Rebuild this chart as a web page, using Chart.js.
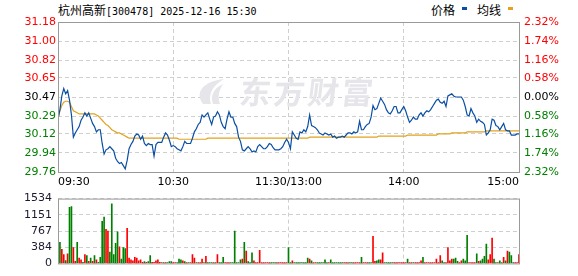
<!DOCTYPE html>
<html>
<head>
<meta charset="utf-8">
<script src="https://cdn.jsdelivr.net/npm/chart.js@4.4.1/dist/chart.umd.min.js"></script>
<style>
  body { margin: 0; background: #fff; width: 578px; height: 276px; overflow: hidden; position: relative; }
  #title { position: absolute; left: 58px; top: 2px; height: 16px; line-height: 16px; white-space: nowrap; color: #000; }
  .cjk { font-family: "Noto Sans CJK SC", sans-serif; font-size: 12px; }
  .mono { font-family: "DejaVu Sans Mono", monospace; font-size: 10px; }
  .lg { position: absolute; top: 2px; height: 16px; line-height: 16px; white-space: nowrap; font-family: "Noto Sans CJK SC", sans-serif; font-size: 12px; color: #000; }
  .key { position: absolute; top: 7px; width: 5px; height: 3px; }
  #priceChart { position: absolute; left: 0; top: 0; }
  #volChart { position: absolute; left: 0; top: 186px; }
</style>
</head>
<body>
<div id="title"><span class="cjk">杭州高新</span><span class="mono">[300478] 2025-12-16 15:30</span></div>
<div class="lg" style="left:431px">价格</div>
<div class="key" style="left:462px;background:#0a4fa3"></div>
<div class="lg" style="left:477px">均线</div>
<div class="key" style="left:508px;background:#e2a21c"></div>
<canvas id="priceChart" width="578" height="190"></canvas>
<canvas id="volChart" width="578" height="90"></canvas>
<script>
// minute-by-minute price, 09:30 .. 11:30 then 13:00 .. 15:00 (241 points)
const price = [
  30.26, 30.35, 30.48, 30.55, 30.50, 30.53, 30.44, 30.30, 30.09, 30.13,
  30.16, 30.19, 30.25, 30.28, 30.32, 30.29, 30.32, 30.27, 30.22, 30.19,
  30.14, 30.16, 30.16, 30.03, 29.93, 29.97, 29.98, 30.00, 29.98, 29.96,
  29.89, 29.86, 29.84, 29.85, 29.82, 29.79, 29.87, 29.98, 30.02, 30.05,
  30.10, 30.12, 30.11, 30.07, 30.10, 30.03, 30.01, 30.03, 30.02, 30.02,
  29.91, 30.02, 30.04, 30.04, 30.04, 30.09, 30.13, 30.11, 30.06, 30.00,
  30.01, 30.00, 29.98, 29.97, 29.96, 30.00, 30.05, 30.03, 30.03, 30.03,
  30.08, 30.14, 30.17, 30.21, 30.23, 30.30, 30.28, 30.30, 30.32, 30.26,
  30.21, 30.28, 30.29, 30.33, 30.30, 30.23, 30.19, 30.17, 30.26, 30.33,
  30.28, 30.28, 30.22, 30.19, 30.09, 30.05, 29.97, 29.96, 29.98, 30.00,
  29.98, 29.95, 29.96, 29.95, 30.00, 30.02, 30.00, 29.98, 29.98, 30.00,
  30.03, 30.02, 29.99, 29.97, 29.97, 29.97, 29.98, 30.00, 30.04, 30.07,
  30.04, 29.98, 30.14, 30.11, 30.08, 30.07, 30.14, 30.13, 30.16, 30.14,
  30.19, 30.30, 30.20, 30.19, 30.18, 30.16, 30.13, 30.12, 30.11, 30.13,
  30.12, 30.11, 30.12, 30.09, 30.10, 30.08, 30.09, 30.09, 30.10, 30.09,
  30.11, 30.13, 30.13, 30.12, 30.14, 30.13, 30.14, 30.24, 30.16, 30.16,
  30.19, 30.21, 30.22, 30.28, 30.39, 30.35, 30.36, 30.41, 30.46, 30.43,
  30.40, 30.35, 30.32, 30.31, 30.34, 30.38, 30.38, 30.32, 30.32, 30.35,
  30.38, 30.34, 30.28, 30.23, 30.25, 30.28, 30.26, 30.26, 30.30, 30.32,
  30.29, 30.32, 30.34, 30.33, 30.35, 30.38, 30.41, 30.44, 30.45, 30.42,
  30.41, 30.43, 30.38, 30.48, 30.49, 30.50, 30.48, 30.47, 30.47, 30.47,
  30.47, 30.44, 30.38, 30.30, 30.29, 30.36, 30.32, 30.29, 30.23, 30.26,
  30.24, 30.23, 30.21, 30.11, 30.13, 30.16, 30.26, 30.25, 30.20, 30.19,
  30.16, 30.19, 30.22, 30.16, 30.15, 30.15, 30.11, 30.11, 30.11, 30.12,
  30.12
];

// average price line
const avgPrice = [
  30.26, 30.34, 30.39, 30.42, 30.43, 30.43, 30.42, 30.38, 30.34, 30.33,
  30.32, 30.31, 30.31, 30.31, 30.31, 30.31, 30.31, 30.31, 30.31, 30.31,
  30.30, 30.29, 30.27, 30.25, 30.23, 30.21, 30.20, 30.18, 30.16, 30.15,
  30.14, 30.13, 30.13, 30.12, 30.11, 30.10, 30.09, 30.08, 30.08, 30.08,
  30.08, 30.08, 30.08, 30.08, 30.08, 30.08, 30.08, 30.08, 30.08, 30.08,
  30.08, 30.08, 30.08, 30.08, 30.08, 30.08, 30.08, 30.08, 30.08, 30.08,
  30.08, 30.08, 30.08, 30.07, 30.07, 30.07, 30.07, 30.07, 30.07, 30.07,
  30.07, 30.07, 30.07, 30.07, 30.07, 30.07, 30.07, 30.07, 30.08, 30.08,
  30.08, 30.08, 30.08, 30.08, 30.08, 30.08, 30.08, 30.08, 30.08, 30.08,
  30.08, 30.08, 30.08, 30.08, 30.08, 30.08, 30.08, 30.08, 30.08, 30.08,
  30.08, 30.08, 30.08, 30.08, 30.08, 30.08, 30.08, 30.08, 30.08, 30.08,
  30.08, 30.08, 30.08, 30.08, 30.08, 30.08, 30.08, 30.08, 30.08, 30.08,
  30.08, 30.08, 30.08, 30.08, 30.08, 30.08, 30.08, 30.08, 30.08, 30.08,
  30.08, 30.09, 30.09, 30.09, 30.09, 30.09, 30.09, 30.09, 30.09, 30.09,
  30.09, 30.09, 30.09, 30.09, 30.09, 30.09, 30.09, 30.09, 30.09, 30.09,
  30.09, 30.09, 30.09, 30.09, 30.09, 30.09, 30.09, 30.09, 30.09, 30.09,
  30.09, 30.09, 30.09, 30.09, 30.09, 30.09, 30.09, 30.10, 30.10, 30.10,
  30.10, 30.10, 30.10, 30.10, 30.10, 30.10, 30.10, 30.10, 30.10, 30.10,
  30.10, 30.10, 30.11, 30.11, 30.11, 30.11, 30.11, 30.11, 30.11, 30.11,
  30.11, 30.11, 30.11, 30.11, 30.11, 30.11, 30.11, 30.11, 30.12, 30.12,
  30.12, 30.12, 30.12, 30.12, 30.12, 30.13, 30.13, 30.13, 30.13, 30.13,
  30.13, 30.13, 30.13, 30.14, 30.14, 30.14, 30.14, 30.14, 30.14, 30.14,
  30.14, 30.14, 30.14, 30.15, 30.15, 30.15, 30.15, 30.15, 30.15, 30.15,
  30.15, 30.15, 30.15, 30.15, 30.15, 30.15, 30.15, 30.15, 30.15, 30.15,
  30.15
];

// volume per minute (lots)
const volume = [
     0,  497,  331,  207,   69,  228, 1325, 1345,  373,   48,
   497,  124,   83,   28,  207,  186,   48,  124,   48,  186,
    83,   28,  145,  994, 1097,  807,  766,  269, 1408,  207,
   476,  745,  393,  104,  373,  352,  828,  124,   83,   62,
   145,  124,   62,   83,   28,   41,   28,   41,  186,   28,
    28,   62,   83,   28,   20,   20,   20,   20,   41,   41,
    20,   20,   20,  104,   83,   62,   41,   20,   20,   20,
   207,  124,   20,   20,   20,  104,   20,  166,   20,   20,
    20,   20,   20,  207,   20,   20,  145,   20,   20,   20,
    20,   20,  766,   20,   20,   83,  104,  497,  290,   41,
    20,  248,   62,   20,   20,  310,   20,   20,   20,   20,
    20,   20,   20,   20,   20,   20,   20,   20,   20,   20,
   373,   20,   62,   20,   20,   20,   20,   20,   20,   20,
   124,  104,   62,   20,   20,   20,   20,   20,   20,   83,
    20,   20,   83,   20,   20,   20,   20,   20,   20,   20,
    20,   20,   20,   20,   20,   20,   20,   20,  145,   20,
    20,   20,   20,   20,  642,   48,   62,   83,   83,  248,
    20,   20,   20,   20,   20,   20,   20,   20,   20,   20,
    20,   20,  104,   20,   20,   20,   20,   20,   20,   62,
   145,   20,   20,   20,   20,   20,   20,  104,   20,  186,
    62,   20,   20,  373,   62,  104,  104,  124,   48,   20,
    62,  104,   62,  662,   20,   20,   20,   20,  228,   48,
    62,  104,  166,  455,   83,  207,  600,  104,   20,   20,
    62,   20,  145,   62,  290,  269,  186,   20,   20,   20,
   207
];

// bar colour per minute: 'r' up, 'g' down
const volDir = [
  'g','g','r','r','g','r','g','g','r','r',
  'g','r','r','g','r','g','r','g','r','g',
  'r','g','g','g','g','r','r','g','g','g',
  'g','g','r','g','g','g','r','r','r','r',
  'r','r','r','r','r','g','r','g','g','r',
  'r','r','r','r','r','g','r','g','g','g',
  'r','r','g','g','g','r','g','r','g','r',
  'r','r','g','r','r','r','g','r','g','g',
  'g','r','g','r','g','g','g','r','r','r',
  'g','g','g','g','g','g','r','g','r','g',
  'g','g','r','r','r','r','r','r','r','r',
  'r','g','g','g','r','r','r','r','r','r',
  'g','g','r','g','g','g','g','g','g','g',
  'g','r','g','r','r','g','g','g','g','g',
  'g','r','g','g','g','g','g','g','g','r',
  'r','r','g','g','r','r','r','r','g','r',
  'r','r','g','g','r','r','g','g','r','r',
  'g','g','g','g','g','r','r','r','r','r',
  'r','r','g','r','r','g','r','r','r','r',
  'g','r','r','r','r','r','r','r','r','r',
  'g','g','r','r','r','r','g','g','g','r',
  'r','g','g','g','r','r','r','r','g','r',
  'g','g','g','g','r','r','r','g','g','r',
  'g','g','r','g','r','g','g','g','r','r',
  'r'
];

const prevClose = 30.47;
const priceTicks = [31.18, 31.00, 30.82, 30.65, 30.47, 30.29, 30.12, 29.94, 29.76];
const pctTicks = ['2.32%', '1.74%', '1.16%', '0.58%', '0.00%', '0.58%', '1.16%', '1.74%', '2.32%'];
const volTicks = [1534, 1151, 767, 384, 0];
const timeTickPos = [0, 60, 120, 180, 240];
const timeLabels = ['09:30', '10:30', '11:30/13:00', '14:00', '15:00'];

const RED = '#ff0000';
const GREEN = '#008000';
const GRID = '#cfcfcf';
const FRAME = '#9a9a9a';
const TICK_FONT = { family: 'DejaVu Sans', size: 11 };

function tickColor(v) {
  if (Math.abs(v - prevClose) < 0.001) return '#000000';
  return v > prevClose ? RED : GREEN;
}

// solid frame round the plot area
const framePlugin = {
  id: 'frame',
  afterDraw(chart) {
    const a = chart.chartArea;
    const ctx = chart.ctx;
    ctx.save();
    ctx.strokeStyle = FRAME;
    ctx.lineWidth = 1;
    ctx.strokeRect(a.left + 0.5, a.top + 0.5, a.right - a.left, a.bottom - a.top);
    ctx.restore();
  }
};

// faint logo behind the price line
const watermarkPlugin = {
  id: 'watermark',
  beforeDatasetsDraw(chart) {
    const ctx = chart.ctx;
    ctx.save();
    ctx.fillStyle = '#e6e6ea';
    ctx.beginPath();
    ctx.moveTo(203, 104);
    ctx.bezierCurveTo(194, 92, 204, 81, 224, 79);
    ctx.bezierCurveTo(212, 86, 208, 95, 211, 104);
    ctx.closePath();
    ctx.fill();
    ctx.beginPath();
    ctx.moveTo(213, 104);
    ctx.bezierCurveTo(210, 95, 214, 88, 223, 84);
    ctx.bezierCurveTo(218, 92, 218, 98, 220, 104);
    ctx.closePath();
    ctx.fill();
    ctx.font = 'bold 31px "Noto Sans CJK SC"';
    ctx.textBaseline = 'middle';
    ctx.letterSpacing = '3px';
    ctx.transform(1, 0, -0.12, 1, 11, 0);
    ctx.fillText('东方财富', 240, 92);
    ctx.restore();
  }
};

// time labels: first left-aligned, last right-aligned
const timeLabelPlugin = {
  id: 'timeLabels',
  afterDraw(chart) {
    const ctx = chart.ctx;
    const xs = chart.scales.x;
    ctx.save();
    ctx.font = '11px "DejaVu Sans"';
    ctx.fillStyle = '#000';
    ctx.textBaseline = 'middle';
    timeTickPos.forEach((m, i) => {
      ctx.textAlign = i === 0 ? 'left' : (i === timeTickPos.length - 1 ? 'right' : 'center');
      ctx.fillText(timeLabels[i], xs.getPixelForValue(m), chart.chartArea.bottom + 10);
    });
    ctx.restore();
  }
};

const priceChart = new Chart(document.getElementById('priceChart'), {
  type: 'line',
  data: {
    datasets: [
      {
        label: '价格',
        data: price.map((p, i) => ({ x: i, y: p })),
        borderColor: '#0a4fa3',
        borderWidth: 1.2,
        pointRadius: 0,
        tension: 0
      },
      {
        label: '均线',
        data: avgPrice.map((p, i) => ({ x: i, y: p })),
        borderColor: '#e2a21c',
        borderWidth: 1.2,
        pointRadius: 0,
        tension: 0
      }
    ]
  },
  options: {
    responsive: false,
    animation: false,
    devicePixelRatio: 1,
    events: [],
    layout: { padding: { top: 22, left: 0, right: 0, bottom: 0 } },
    plugins: { legend: { display: false }, tooltip: { enabled: false } },
    scales: {
      x: {
        type: 'linear',
        min: 0,
        max: 240,
        afterBuildTicks: (s) => { s.ticks = timeTickPos.map((v) => ({ value: v })); },
        afterFit: (s) => { s.height = 18; },
        ticks: { display: false },
        grid: { color: GRID, drawTicks: false },
        border: { display: false, dash: [4, 3] }
      },
      y: {
        position: 'left',
        min: 29.76,
        max: 31.18,
        afterBuildTicks: (s) => { s.ticks = priceTicks.slice().reverse().map((v) => ({ value: v })); },
        afterFit: (s) => { s.width = 58; },
        ticks: {
          callback: (v) => v.toFixed(2),
          color: (c) => tickColor(c.tick.value),
          padding: 2,
          font: TICK_FONT
        },
        grid: { color: GRID, drawTicks: false },
        border: { display: false, dash: [4, 3] }
      },
      y1: {
        position: 'right',
        min: 29.76,
        max: 31.18,
        afterBuildTicks: (s) => { s.ticks = priceTicks.slice().reverse().map((v) => ({ value: v })); },
        afterFit: (s) => { s.width = 59; },
        ticks: {
          callback: (v) => pctTicks[priceTicks.indexOf(v)],
          color: (c) => tickColor(c.tick.value),
          padding: 5,
          font: TICK_FONT
        },
        grid: { drawOnChartArea: false, drawTicks: false },
        border: { display: false }
      }
    }
  },
  plugins: [watermarkPlugin, framePlugin, timeLabelPlugin]
});

const volChart = new Chart(document.getElementById('volChart'), {
  type: 'bar',
  data: {
    datasets: [
      {
        label: '成交量',
        data: volume.map((v, i) => ({ x: i, y: v })),
        backgroundColor: volDir.map((d) => (d === 'r' ? RED : GREEN)),
        barThickness: 1
      }
    ]
  },
  options: {
    responsive: false,
    animation: false,
    devicePixelRatio: 1,
    events: [],
    layout: { padding: { top: 10, left: 0, right: 59, bottom: 6 } },
    plugins: { legend: { display: false }, tooltip: { enabled: false } },
    scales: {
      x: {
        type: 'linear',
        min: 0,
        max: 240,
        offset: false,
        afterBuildTicks: (s) => { s.ticks = timeTickPos.map((v) => ({ value: v })); },
        afterFit: (s) => { s.height = 0; },
        ticks: { display: false },
        grid: { color: GRID, drawTicks: false, offset: false },
        border: { display: false, dash: [4, 3] }
      },
      y: {
        position: 'left',
        min: 0,
        max: 1534,
        afterBuildTicks: (s) => { s.ticks = volTicks.slice().reverse().map((v) => ({ value: v })); },
        afterFit: (s) => { s.width = 58; },
        ticks: { callback: (v) => String(v), color: '#1a1a2e', padding: 6, font: TICK_FONT },
        grid: { color: GRID, drawTicks: false },
        border: { display: false, dash: [4, 3] }
      }
    }
  },
  plugins: [framePlugin]
});
</script>
</body>
</html>
